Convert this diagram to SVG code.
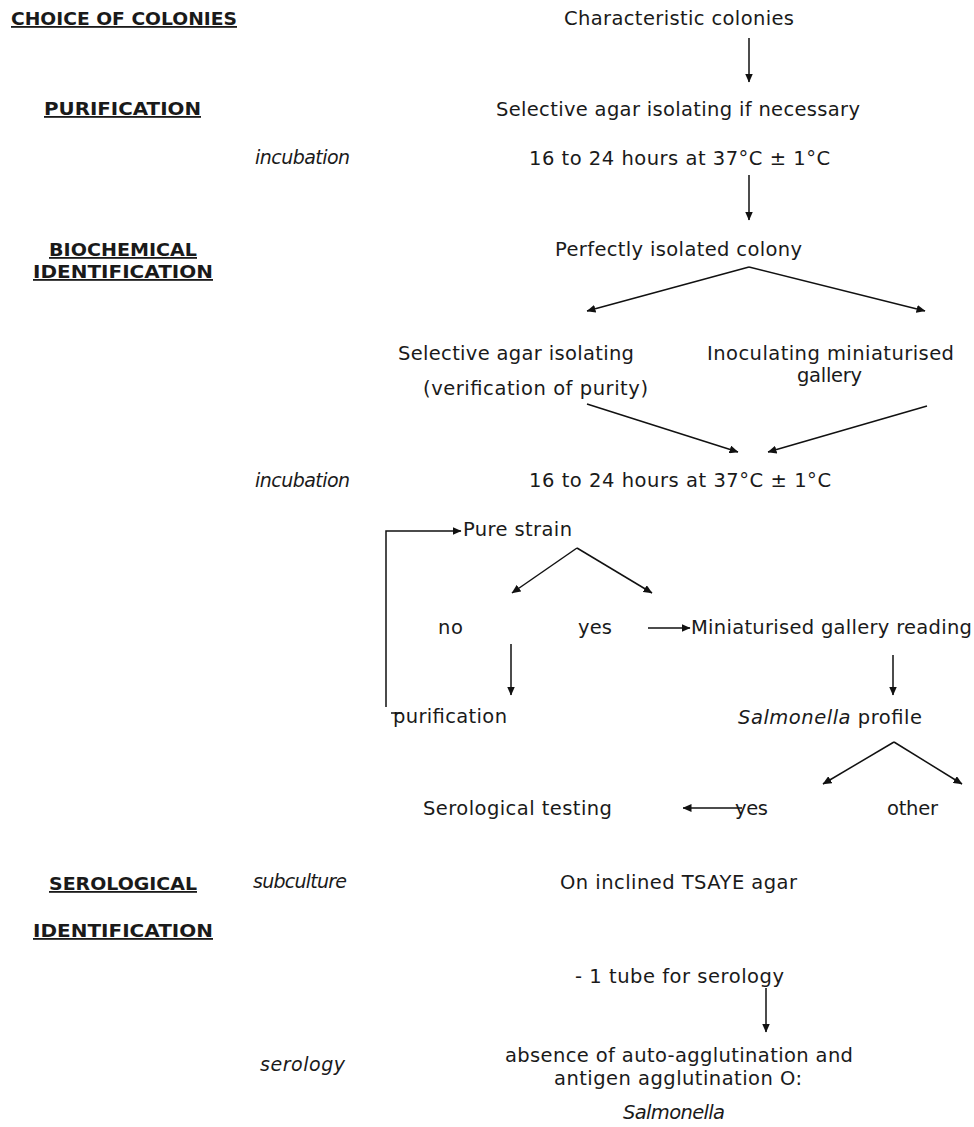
<svg xmlns="http://www.w3.org/2000/svg" width="974" height="1127" viewBox="0 0 974 1127">
<style>
text{font-family:"DejaVu Sans",Verdana,sans-serif;fill:#1a1a1a}
.b{font-size:19.5px}
.h{font-size:18px;font-weight:bold;text-decoration:underline}
.i{font-size:19px;font-style:italic}
.c line,.c polyline{stroke:#111;stroke-width:1.5;fill:none}
.a{marker-end:url(#ah)}
</style>
<defs>
<marker id="ah" markerUnits="userSpaceOnUse" markerWidth="9" markerHeight="8" refX="8.5" refY="4" orient="auto">
<path d="M0,0 L9,4 L0,8 z" fill="#111"/>
</marker>
</defs>
<rect width="974" height="1127" fill="#fff"/>
<g id="headings">
<text class="h" x="11" y="25" textLength="226" lengthAdjust="spacingAndGlyphs">CHOICE OF COLONIES</text>
<text class="h" x="44" y="115" textLength="157" lengthAdjust="spacingAndGlyphs">PURIFICATION</text>
<text class="h" x="49" y="256" textLength="148" lengthAdjust="spacingAndGlyphs">BIOCHEMICAL</text>
<text class="h" x="33" y="278" textLength="180" lengthAdjust="spacingAndGlyphs">IDENTIFICATION</text>
<text class="h" x="49" y="890" textLength="148" lengthAdjust="spacingAndGlyphs">SEROLOGICAL</text>
<text class="h" x="33" y="937" textLength="180" lengthAdjust="spacingAndGlyphs">IDENTIFICATION</text>
</g>
<g id="steps">
<text class="i" x="255" y="164" textLength="95">incubation</text>
<text class="i" x="255" y="487" textLength="95">incubation</text>
<text class="i" x="253" y="888" textLength="94">subculture</text>
<text class="i" x="260" y="1071" textLength="85">serology</text>
</g>
<g id="n-characteristic"><text class="b" x="564" y="25" textLength="230">Characteristic colonies</text></g>
<g id="n-selective1"><text class="b" x="496" y="116" textLength="364">Selective agar isolating if necessary</text></g>
<g id="n-incub1"><text class="b" x="529" y="165" textLength="301">16 to 24 hours at 37°C ± 1°C</text></g>
<g id="n-perfect"><text class="b" x="555" y="256" textLength="247">Perfectly isolated colony</text></g>
<g id="n-selective2">
<text class="b" x="398" y="360" textLength="236">Selective agar isolating</text>
<text class="b" x="423" y="395" textLength="225">(verification of purity)</text>
</g>
<g id="n-inoculating">
<text class="b" x="707" y="360" textLength="247">Inoculating miniaturised</text>
<text class="b" x="797" y="382" textLength="65">gallery</text>
</g>
<g id="n-incub2"><text class="b" x="529" y="487" textLength="302">16 to 24 hours at 37°C ± 1°C</text></g>
<g id="n-pure"><text class="b" x="463" y="536" textLength="109">Pure strain</text></g>
<g id="n-no"><text class="b" x="438" y="634" textLength="25">no</text></g>
<g id="n-yes1"><text class="b" x="578" y="634" textLength="34">yes</text></g>
<g id="n-reading"><text class="b" x="691" y="634" textLength="281">Miniaturised gallery reading</text></g>
<g id="n-purification"><text class="b" x="393" y="723" textLength="114">purification</text></g>
<g id="n-profile"><text class="b" x="738" y="724" textLength="184"><tspan font-style="italic">Salmonella</tspan> profile</text></g>
<g id="n-serotest"><text class="b" x="423" y="815" textLength="189">Serological testing</text></g>
<g id="n-yes2"><text class="b" x="735" y="815" textLength="33">yes</text></g>
<g id="n-other"><text class="b" x="887" y="815" textLength="51">other</text></g>
<g id="n-tsaye"><text class="b" x="560" y="889" textLength="237">On inclined TSAYE agar</text></g>
<g id="n-tube"><text class="b" x="575" y="983" textLength="209">- 1 tube for serology</text></g>
<g id="n-result">
<text class="b" x="505" y="1062" textLength="348">absence of auto-agglutination and</text>
<text class="b" x="554" y="1085" textLength="248">antigen agglutination O:</text>
<text class="b" x="623" y="1119" textLength="102" font-style="italic">Salmonella</text>
</g>
<g id="connectors" class="c">
<line class="a" x1="749" y1="38" x2="749" y2="82"/>
<line class="a" x1="749" y1="175" x2="749" y2="220"/>
<line class="a" x1="749" y1="267" x2="587" y2="311"/>
<line class="a" x1="749" y1="267" x2="925" y2="311"/>
<line class="a" x1="587" y1="404" x2="738" y2="452"/>
<line class="a" x1="927" y1="406" x2="768" y2="452"/>
<polyline class="a" points="386,707 386,531 461,531"/>
<line class="a" x1="577" y1="548" x2="512" y2="593"/>
<line class="a" x1="577" y1="548" x2="652" y2="593"/>
<line class="a" x1="648" y1="628" x2="690" y2="628"/>
<line class="a" x1="511" y1="644" x2="511" y2="695"/>
<line x1="391" y1="713" x2="402" y2="713"/>
<line class="a" x1="893" y1="655" x2="893" y2="695"/>
<line class="a" x1="894" y1="742" x2="823" y2="784"/>
<line class="a" x1="894" y1="742" x2="962" y2="784"/>
<line class="a" x1="742" y1="808" x2="683" y2="808"/>
<line class="a" x1="766" y1="988" x2="766" y2="1032"/>
</g>
</svg>
